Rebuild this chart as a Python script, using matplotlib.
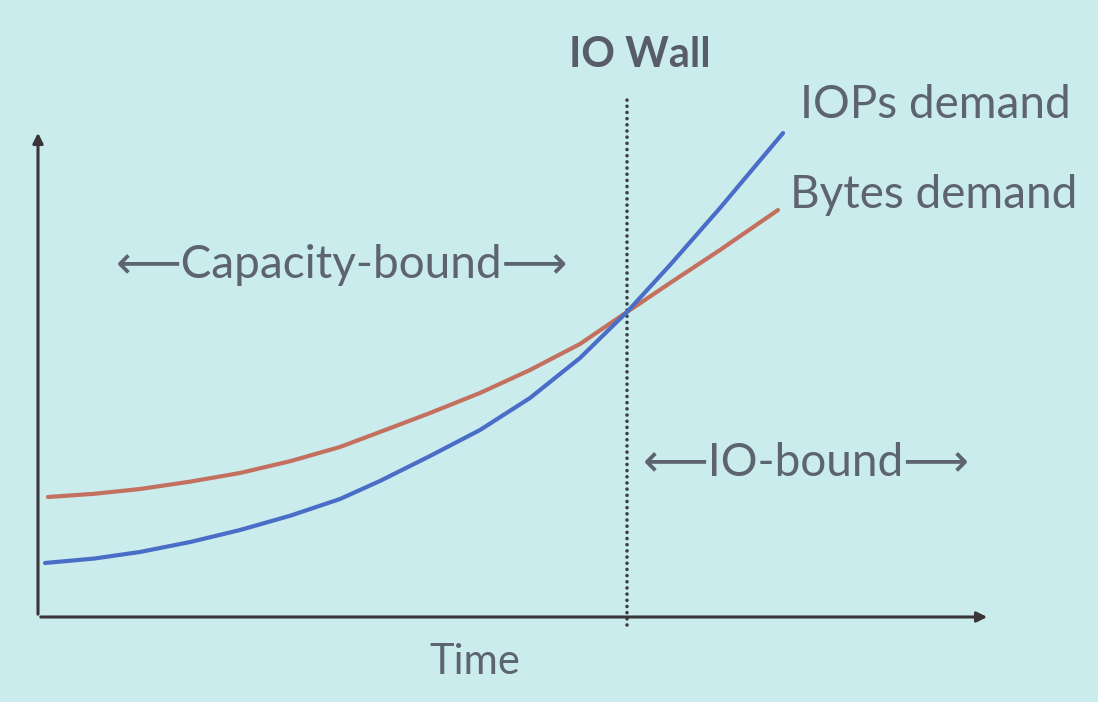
import matplotlib
matplotlib.use("Agg")
import matplotlib.pyplot as plt
import numpy as np

# values (time 0..100, demand 0..100)
bytes_t = [1.05, 5.9, 10.71, 16.0, 21.22, 26.5, 31.72, 35.92, 41.18, 46.43, 51.68, 56.93, 61.87, 66.39, 71.64, 77.73]
bytes_d = [24.64, 25.3, 26.28, 27.8, 29.57, 32.0, 34.91, 37.99, 41.89, 46.0, 50.72, 56.06, 62.63, 68.58, 75.36, 83.57]
iops_t = [0.74, 5.9, 10.71, 16.0, 21.22, 26.5, 31.72, 35.92, 41.18, 46.43, 51.68, 56.93, 61.87, 66.39, 71.64, 78.26]
iops_d = [11.09, 12.0, 13.35, 15.4, 17.86, 20.8, 24.23, 27.93, 33.06, 38.4, 44.97, 53.18, 62.63, 72.28, 83.98, 99.38]
io_wall_t = 61.87

BG = "#cbecec"
TXT = "#5d6470"
AX = "#3a3539"

fam = ["Lato", "DejaVu Sans"]

fig = plt.figure(figsize=(10.98, 7.02), dpi=100, facecolor=BG)
ax = fig.add_axes([38 / 1098, 85 / 702, 952 / 1098, 487 / 702])
ax.set_facecolor(BG)
ax.set_xlim(0, 100)
ax.set_ylim(0, 100)
for s in ax.spines.values():
    s.set_visible(False)
ax.set_xticks([])
ax.set_yticks([])

# axes with arrowheads
ax.annotate("", xy=(1.0, 0), xytext=(0, 0), xycoords="axes fraction",
            arrowprops=dict(arrowstyle="-|>,head_length=0.6,head_width=0.3", color=AX, lw=2.2),
            annotation_clip=False)
ax.annotate("", xy=(0, 1.0), xytext=(0, 0), xycoords="axes fraction",
            arrowprops=dict(arrowstyle="-|>,head_length=0.6,head_width=0.3", color=AX, lw=2.2),
            annotation_clip=False)

# io wall
ax.plot([io_wall_t, io_wall_t], [-1.6, 107], color="#3e3e46", lw=2.6,
        linestyle=(0, (0.01, 1.7)), dash_capstyle="round", clip_on=False)

ax.plot(bytes_t, bytes_d, color="#c4705f", lw=3.0, solid_capstyle="round", solid_joinstyle="round")
ax.plot(iops_t, iops_d, color="#4a6ec8", lw=3.0, solid_capstyle="round", solid_joinstyle="round")


def ftext(x, y, s, color=TXT, **kw):
    fig.text(x / 1098, 1 - y / 702, s, family=fam, color=color, **kw)


ftext(640, 55, "IO Wall", fontsize=30, fontweight="bold", ha="center", va="center", color="#585c69")
ftext(800, 105, "IOPs demand", fontsize=33, ha="left", va="center")
ftext(790, 195, "Bytes demand", fontsize=33, ha="left", va="center")
ftext(342, 265, "\u27f5Capacity-bound\u27f6", fontsize=33, ha="center", va="center")
ftext(806, 463, "\u27f5IO-bound\u27f6", fontsize=33, ha="center", va="center")
ftext(475, 662, "Time", fontsize=30, ha="center", va="center")

fig.savefig("out.png", dpi=100, facecolor=BG)
